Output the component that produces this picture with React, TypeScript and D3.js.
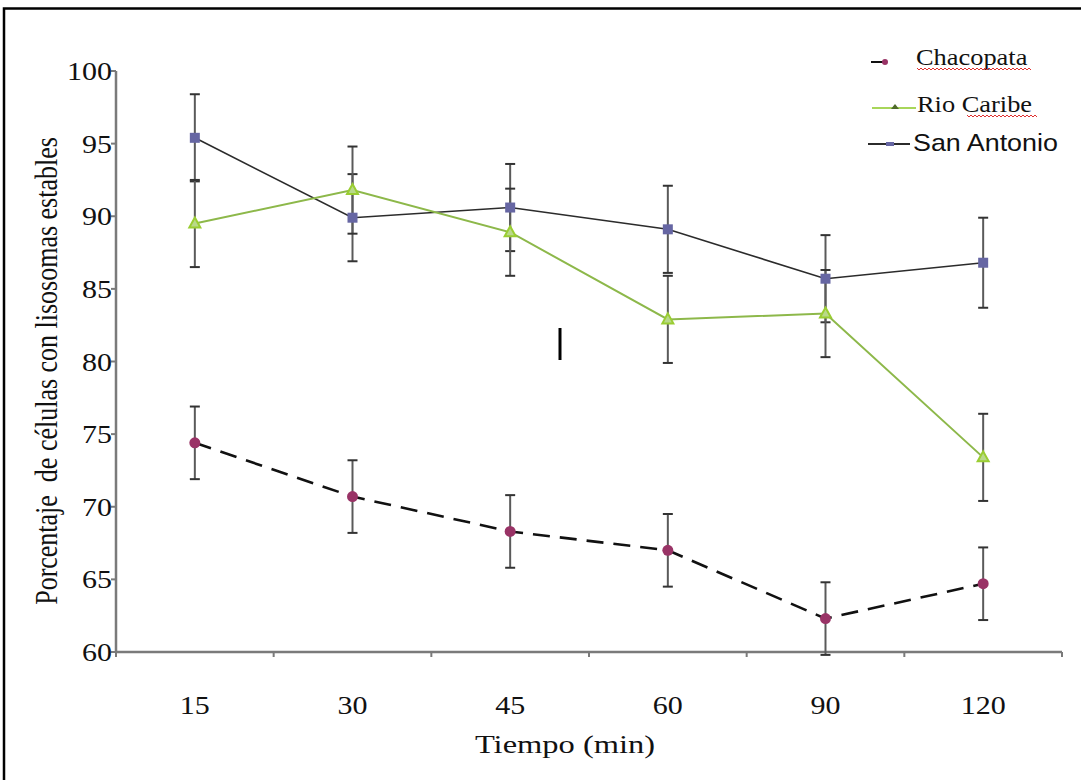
import React, { useEffect, useRef } from 'react';
import * as d3 from 'd3';

// Tiempo (min)
const tiempos = ['15', '30', '45', '60', '90', '120'];

// Porcentaje de células con lisosomas estables
const chacopata = [74.4, 70.7, 68.3, 67.0, 62.3, 64.7];
const chacopataErr = [2.5, 2.5, 2.5, 2.5, 2.5, 2.5];
const rioCaribe = [89.5, 91.8, 88.9, 82.9, 83.3, 73.4];
const rioCaribeErr = [3, 3, 3, 3, 3, 3];
const sanAntonio = [95.4, 89.9, 90.6, 89.1, 85.7, 86.8];
const sanAntonioErr = [3, 3, 3, 3, 3, 3.1];

const yTicks = [60, 65, 70, 75, 80, 85, 90, 95, 100];

const FONT = '"Liberation Serif", "Times New Roman", serif';
const STRETCH = 'scale(1.2,1)';

const App = () => {
  const svgRef = useRef<SVGSVGElement>(null);

  useEffect(() => {
    const svg = d3.select(svgRef.current);
    svg.selectAll('*').remove();

    const left = 116, right = 1062, top = 71, bottom = 652;

    const x = d3.scaleBand().domain(tiempos).range([left, right]);
    const y = d3.scaleLinear().domain([60, 100]).range([bottom, top]);
    const cx = (t: string) => (x(t) as number) + x.bandwidth() / 2;

    // outer frame
    svg.append('rect')
      .attr('x', 4).attr('y', 8.5)
      .attr('width', 1090).attr('height', 800)
      .attr('fill', 'white')
      .attr('stroke', '#000')
      .attr('stroke-width', 2.5);

    // axes
    const axisColor = '#7a7a7a';
    svg.append('line')
      .attr('x1', left).attr('x2', left)
      .attr('y1', y(100)).attr('y2', bottom)
      .attr('stroke', axisColor).attr('stroke-width', 2.5);
    svg.append('line')
      .attr('x1', left).attr('x2', right)
      .attr('y1', bottom).attr('y2', bottom)
      .attr('stroke', axisColor).attr('stroke-width', 2.5);

    // y ticks + labels
    yTicks.forEach(v => {
      svg.append('line')
        .attr('x1', left - 5).attr('x2', left)
        .attr('y1', y(v)).attr('y2', y(v))
        .attr('stroke', axisColor).attr('stroke-width', 2);
      svg.append('text')
        .attr('transform', `translate(112,${y(v) + 9}) ${STRETCH}`)
        .attr('text-anchor', 'end')
        .attr('font-family', FONT)
        .attr('font-size', 25)
        .attr('fill', '#111')
        .text(v);
    });

    // x ticks at band boundaries + labels
    const bounds = tiempos.map(t => x(t) as number).concat([right]);
    bounds.forEach(b => {
      svg.append('line')
        .attr('x1', b).attr('x2', b)
        .attr('y1', bottom).attr('y2', bottom + 5)
        .attr('stroke', axisColor).attr('stroke-width', 2);
    });
    tiempos.forEach(t => {
      svg.append('text')
        .attr('transform', `translate(${cx(t)},714) ${STRETCH}`)
        .attr('text-anchor', 'middle')
        .attr('font-family', FONT)
        .attr('font-size', 25)
        .attr('fill', '#111')
        .text(t);
    });

    // axis titles
    svg.append('text')
      .attr('transform', `translate(565,753) scale(1.25,1)`)
      .attr('text-anchor', 'middle')
      .attr('font-family', FONT)
      .attr('font-size', 26)
      .attr('fill', '#111')
      .text('Tiempo (min)');
    svg.append('text')
      .attr('transform', `translate(57,371) ${STRETCH} rotate(-90)`)
      .attr('text-anchor', 'middle')
      .attr('font-family', FONT)
      .attr('font-size', 26)
      .attr('fill', '#111')
      .attr('xml:space', 'preserve')
      .text('Porcentaje  de células con lisosomas estables');

    const series = [
      { name: 'San Antonio', values: sanAntonio, err: sanAntonioErr, line: '#2b2b2b', width: 1.6, dash: null, marker: 'square' },
      { name: 'Rio Caribe', values: rioCaribe, err: rioCaribeErr, line: '#8db84a', width: 2, dash: null, marker: 'triangle' },
      { name: 'Chacopata', values: chacopata, err: chacopataErr, line: '#111', width: 2.6, dash: '17,10', marker: 'circle' },
    ];

    // lines
    series.forEach(s => {
      const line = d3.line<number>()
        .x((_, i) => cx(tiempos[i]))
        .y(d => y(d));
      svg.append('path')
        .datum(s.values)
        .attr('fill', 'none')
        .attr('stroke', s.line)
        .attr('stroke-width', s.width)
        .attr('stroke-dasharray', s.dash)
        .attr('d', line);
    });

    // error bars
    series.forEach(s => {
      s.values.forEach((v, i) => {
        const px = cx(tiempos[i]);
        const hi = y(v + s.err[i]);
        const lo = y(v - s.err[i]);
        svg.append('line')
          .attr('x1', px).attr('x2', px)
          .attr('y1', hi).attr('y2', lo)
          .attr('stroke', '#5a5a5a').attr('stroke-width', 2);
        [hi, lo].forEach(cy => {
          svg.append('line')
            .attr('x1', px - 5).attr('x2', px + 5)
            .attr('y1', cy).attr('y2', cy)
            .attr('stroke', '#333').attr('stroke-width', 2);
        });
      });
    });

    // markers
    series.forEach(s => {
      s.values.forEach((v, i) => {
        const px = cx(tiempos[i]);
        const py = y(v);
        if (s.marker === 'square') {
          svg.append('rect')
            .attr('x', px - 5).attr('y', py - 5)
            .attr('width', 10).attr('height', 10)
            .attr('fill', '#6666a3');
        } else if (s.marker === 'triangle') {
          svg.append('path')
            .attr('d', `M${px},${py - 6}L${px + 5.5},${py + 4}L${px - 5.5},${py + 4}Z`)
            .attr('fill', '#b9d98a')
            .attr('stroke', '#9acd32')
            .attr('stroke-width', 2);
        } else {
          svg.append('circle')
            .attr('cx', px).attr('cy', py).attr('r', 5.5)
            .attr('fill', '#993366');
        }
      });
    });

    // stray cursor mark
    svg.append('line')
      .attr('x1', 560).attr('x2', 560)
      .attr('y1', 328).attr('y2', 360)
      .attr('stroke', '#000').attr('stroke-width', 3);

    // legend
    const legend = svg.append('g');
    const squiggle = (x0: number, x1: number, yy: number) => {
      let d = `M${x0},${yy}`;
      for (let xx = x0, k = 0; xx < x1; xx += 2, k++) d += `L${xx + 2},${yy + (k % 2 ? 0 : 2)}`;
      legend.append('path').attr('d', d).attr('fill', 'none')
        .attr('stroke', '#e03030').attr('stroke-width', 1);
    };

    legend.append('line').attr('x1', 871).attr('x2', 886).attr('y1', 62).attr('y2', 62)
      .attr('stroke', '#111').attr('stroke-width', 2);
    legend.append('circle').attr('cx', 885).attr('cy', 62).attr('r', 3).attr('fill', '#993366');
    legend.append('text')
      .attr('transform', `translate(916,65) scale(1.1,1)`)
      .attr('font-family', FONT).attr('font-size', 24).attr('fill', '#111')
      .text('Chacopata');
    squiggle(917, 1030, 68);

    legend.append('line').attr('x1', 872).attr('x2', 916).attr('y1', 108).attr('y2', 108)
      .attr('stroke', '#a8d65a').attr('stroke-width', 2);
    legend.append('path').attr('d', 'M895,104L899,109L891,109Z').attr('fill', '#4f6b2a');
    legend.append('text')
      .attr('transform', `translate(917,112) scale(1.1,1)`)
      .attr('font-family', FONT).attr('font-size', 24).attr('fill', '#111')
      .text('Rio Caribe');
    squiggle(967, 1036, 115);

    legend.append('line').attr('x1', 868).attr('x2', 910).attr('y1', 144).attr('y2', 144)
      .attr('stroke', '#2b2b2b').attr('stroke-width', 1.8);
    legend.append('rect').attr('x', 886).attr('y', 142).attr('width', 8).attr('height', 4).attr('fill', '#6666a3');
    legend.append('text')
      .attr('transform', `translate(913,151) scale(1.12,1)`)
      .attr('font-family', 'Arial, "Liberation Sans", sans-serif').attr('font-size', 24).attr('fill', '#111')
      .text('San Antonio');
  }, []);

  return (
    <svg
      ref={svgRef}
      width={1081}
      height={780}
      style={{ position: 'absolute', top: 0, left: 0, background: '#fff' }}
    />
  );
};

export default App;
